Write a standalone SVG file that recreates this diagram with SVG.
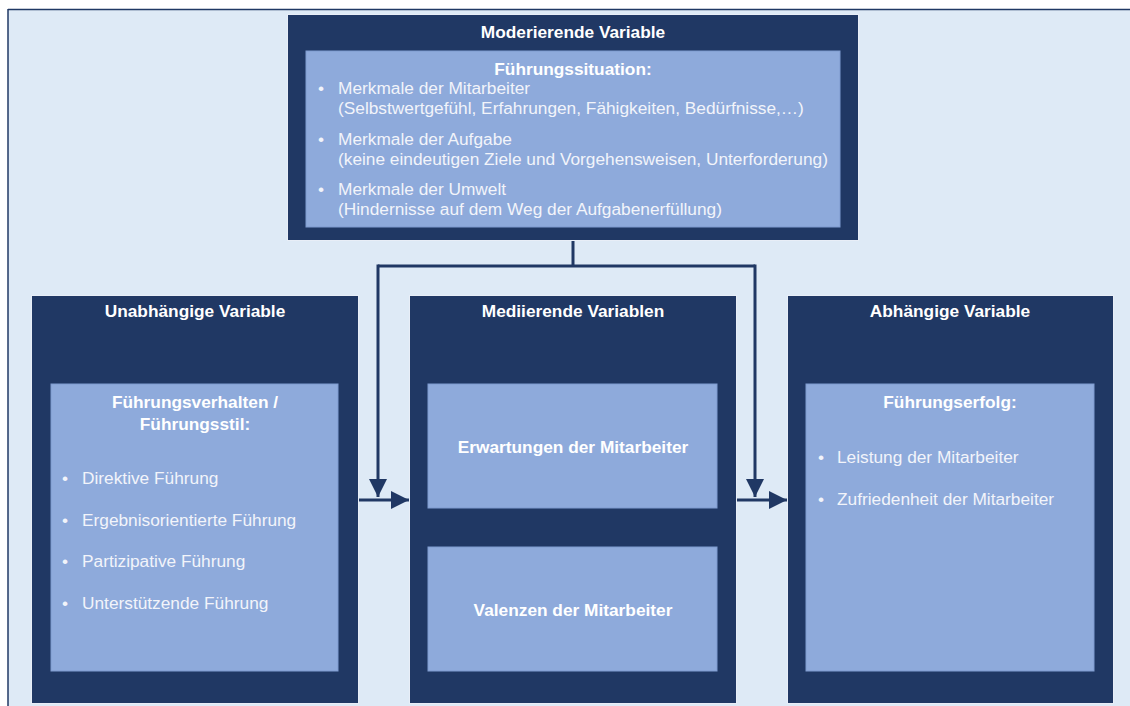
<svg xmlns="http://www.w3.org/2000/svg" width="1130" height="706" viewBox="0 0 1130 706">
<style>
.outer{fill:#203864;stroke:#e8eef7;stroke-width:1}
.inner{fill:#8eaadb;stroke:#7f9bcf;stroke-width:1}
.h{font-family:"Liberation Sans",Arial,sans-serif;font-weight:bold;font-size:17.3px;fill:#ffffff;text-anchor:middle}
.t{font-family:"Liberation Sans",Arial,sans-serif;font-size:17.3px;fill:#f2f4fa}
.c{fill:none;stroke:#203864;stroke-width:3}
</style>
<defs>
<marker id="ah" viewBox="0 0 10 10" refX="10" refY="5" markerWidth="6" markerHeight="6" markerUnits="strokeWidth" orient="auto">
<path d="M0,0 L10,5 L0,10 z" fill="#203864"/>
</marker>
</defs>
<rect x="0" y="0" width="1130" height="706" fill="#ffffff"/>
<rect x="8" y="9" width="1122" height="697" fill="#deeaf6"/>
<line x1="8" y1="9.5" x2="1130" y2="9.5" stroke="#203864" stroke-width="1.5"/>
<line x1="8" y1="9" x2="8" y2="706" stroke="#203864" stroke-width="1.5"/>

<g id="connectors">
<polyline class="c" points="573,240 573,266"/>
<polyline class="c" points="378,266 755,266"/>
<polyline class="c" points="378,264.5 378,497" marker-end="url(#ah)"/>
<polyline class="c" points="755,264.5 755,497" marker-end="url(#ah)"/>
<polyline class="c" points="358,500 409,500" marker-end="url(#ah)"/>
<polyline class="c" points="736,500 787,500" marker-end="url(#ah)"/>
</g>

<g id="moderierende">
<rect class="outer" x="287.5" y="14.5" width="571" height="226"/>
<text class="h" x="573" y="38">Moderierende Variable</text>
<rect class="inner" x="306" y="51" width="534" height="176"/>
<text class="h" x="573" y="75">Führungssituation:</text>
<text class="t" x="318" y="94">•</text>
<text class="t" x="338" y="94">Merkmale der Mitarbeiter</text>
<text class="t" x="338" y="114">(Selbstwertgefühl, Erfahrungen, Fähigkeiten, Bedürfnisse,…)</text>
<text class="t" x="318" y="145">•</text>
<text class="t" x="338" y="145">Merkmale der Aufgabe</text>
<text class="t" x="338" y="165">(keine eindeutigen Ziele und Vorgehensweisen, Unterforderung)</text>
<text class="t" x="318" y="195">•</text>
<text class="t" x="338" y="195">Merkmale der Umwelt</text>
<text class="t" x="338" y="215">(Hindernisse auf dem Weg der Aufgabenerfüllung)</text>
</g>

<g id="unabhaengige">
<rect class="outer" x="31.5" y="295.5" width="327" height="408"/>
<text class="h" x="195" y="317">Unabhängige Variable</text>
<rect class="inner" x="51" y="384" width="287" height="287"/>
<text class="h" x="195" y="408">Führungsverhalten /</text>
<text class="h" x="195" y="430">Führungsstil:</text>
<text class="t" x="62" y="484">•</text>
<text class="t" x="82" y="484">Direktive Führung</text>
<text class="t" x="62" y="526">•</text>
<text class="t" x="82" y="526">Ergebnisorientierte Führung</text>
<text class="t" x="62" y="567">•</text>
<text class="t" x="82" y="567">Partizipative Führung</text>
<text class="t" x="62" y="609">•</text>
<text class="t" x="82" y="609">Unterstützende Führung</text>
</g>

<g id="mediierende">
<rect class="outer" x="409.5" y="295.5" width="327" height="408"/>
<text class="h" x="573" y="317">Mediierende Variablen</text>
<g id="erwartungen">
<rect class="inner" x="428" y="384" width="289" height="124"/>
<text class="h" x="573" y="453">Erwartungen der Mitarbeiter</text>
</g>
<g id="valenzen">
<rect class="inner" x="428" y="547" width="289" height="124"/>
<text class="h" x="573" y="616">Valenzen der Mitarbeiter</text>
</g>
</g>

<g id="abhaengige">
<rect class="outer" x="787.5" y="295.5" width="326" height="408"/>
<text class="h" x="950" y="317">Abhängige Variable</text>
<rect class="inner" x="806" y="384" width="288" height="287"/>
<text class="h" x="950" y="408">Führungserfolg:</text>
<text class="t" x="818" y="463">•</text>
<text class="t" x="837" y="463">Leistung der Mitarbeiter</text>
<text class="t" x="818" y="505">•</text>
<text class="t" x="837" y="505">Zufriedenheit der Mitarbeiter</text>
</g>
</svg>
